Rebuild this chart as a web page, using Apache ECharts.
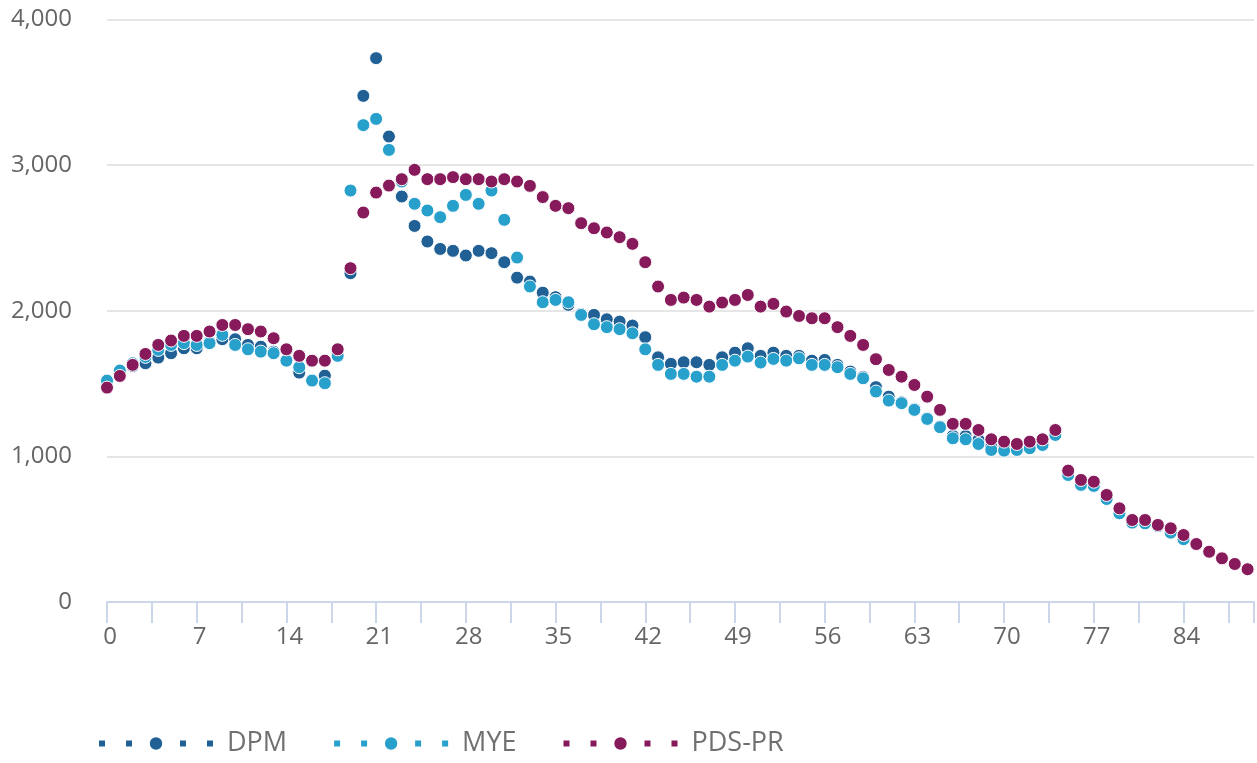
<!DOCTYPE html>
<html>
<head>
<meta charset="utf-8">
<script src="https://cdn.jsdelivr.net/npm/echarts@6/dist/echarts.min.js"></script>
<style>
html,body{margin:0;padding:0;background:#fff;}
#chart{width:1257px;height:763px;}
</style>
</head>
<body>
<div id="chart"></div>
<script>
const ages = [0,1,2,3,4,5,6,7,8,9,10,11,12,13,14,15,16,17,18,19,20,21,22,23,24,25,26,27,28,29,30,31,32,33,34,35,36,37,38,39,40,41,42,43,44,45,46,47,48,49,50,51,52,53,54,55,56,57,58,59,60,61,62,63,64,65,66,67,68,69,70,71,72,73,74,75,76,77,78,79,80,81,82,83,84,85,86,87,88,89];
const seriesNames = ['DPM','MYE','PDS-PR'];
const dpm = [1495,1570,1620,1639,1678,1708,1742,1742,1785,1804,1804,1765,1753,1719,1665,1575,1525,1554,1700,
  2257,3475,3734,3196,2784,2582,2475,2424,2411,2379,2411,2395,2333,2227,2200,2124,2093,2040,
  1978,1971,1941,1925,1898,1818,1680,1635,1646,1646,1628,1680,1712,1742,1690,1712,1690,1690,
  1657,1662,1628,1582,1545,1475,1410,1372,1325,1262,1205,1140,1140,1113,1067,1055,1052,1062,1085,1152,
  878,810,802,712,614,550,545,525,481,436];
const mye = [1520,1589,1639,1683,1731,1765,1777,1765,1777,1834,1765,1735,1719,1708,1657,1612,1520,1502,1690,
  2825,3274,3317,3104,2887,2734,2688,2642,2720,2795,2734,2825,2624,2365,2166,2058,2074,2058,
  1971,1907,1887,1873,1845,1735,1628,1566,1566,1547,1547,1628,1657,1685,1644,1669,1657,1673,
  1628,1628,1612,1566,1536,1445,1383,1365,1319,1257,1200,1124,1117,1085,1044,1039,1044,1056,1078,1147,
  872,804,797,707,609,545,540,520,476,431];
const pdsPr = [1472,1552,1628,1703,1765,1795,1827,1827,1857,1902,1902,1873,1857,1811,1735,1690,1657,1657,1735,
  2292,2674,2811,2859,2903,2967,2903,2903,2917,2903,2903,2887,2903,2887,2857,2780,2720,2704,
  2601,2566,2537,2505,2459,2333,2166,2074,2090,2074,2028,2056,2074,2108,2028,2047,1994,1964,
  1948,1948,1887,1827,1765,1667,1593,1547,1490,1410,1319,1223,1223,1181,1117,1101,1085,1101,1117,1181,
  902,838,826,735,643,563,563,529,506,460,398,345,300,261,225];
const colors = ['#206095','#27A0CC','#871A5B'];

const chart = echarts.init(document.getElementById('chart'), null, {renderer:'canvas'});
function pairs(vals){ return vals.map((v,i)=>[ages[i], v]); }
const FONT = '"Open Sans", "Noto Sans", sans-serif';
function mk(name, vals, color){
  return {
    name: name, type: 'line', data: pairs(vals),
    symbol: 'circle', symbolSize: 13, showSymbol: true,
    itemStyle: {color: color, borderColor: '#ffffff', borderWidth: 1},
    lineStyle: {color: color, opacity: 0, width: 1},
    emphasis: {disabled: true},
    z: 2
  };
}
chart.setOption({
  animation: false,
  color: colors,
  grid: {left: 107, right: 0, top: 19.4, bottom: 161, containLabel: false},
  legend: {
    left: 96, top: 730, padding: 0,
    itemWidth: 114, itemHeight: 18, itemGap: 44,
    lineStyle: {width: 6, type: [6,21], opacity: 1, cap: 'butt'},
    textStyle: {fontFamily: FONT, fontSize: 27, color: '#707070', padding: [0,0,0,9]},
    data: seriesNames
  },
  xAxis: {
    type: 'value', min: 0, max: 89.5, interval: 3.5,
    axisLine: {show: true, lineStyle: {color: '#ccd6eb', width: 2}},
    axisTick: {show: true, length: 21, lineStyle: {color: '#ccd6eb', width: 2}},
    splitLine: {show: false},
    axisLabel: {
      fontFamily: FONT, fontSize: 24, color: '#666666', margin: 23, padding: [0,0,0,6],
      formatter: function(v){ return (Math.abs(v % 7) < 1e-6) ? String(Math.round(v)) : ''; }
    }
  },
  yAxis: {
    type: 'value', min: 0, max: 4000, interval: 1000,
    axisLine: {show: false}, axisTick: {show: false},
    splitLine: {show: true, lineStyle: {color: '#e6e6e6', width: 2}},
    axisLabel: {
      fontFamily: FONT, fontSize: 24, color: '#666666', margin: 35,
      formatter: function(v){ return v.toLocaleString('en-US'); }
    }
  },
  series: [mk(seriesNames[0], dpm, colors[0]), mk(seriesNames[1], mye, colors[1]), mk(seriesNames[2], pdsPr, colors[2])]
});
</script>
</body>
</html>
